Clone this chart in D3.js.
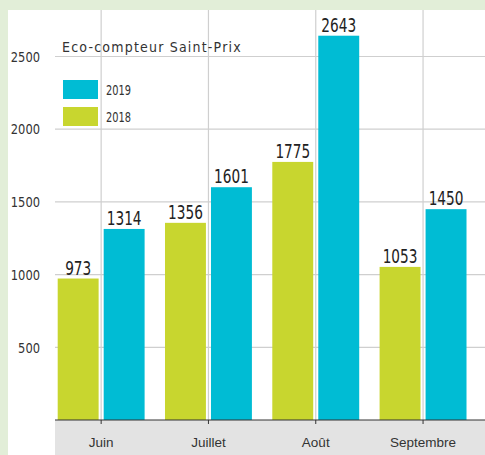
<!DOCTYPE html>
<html>
<head>
<meta charset="utf-8">
<script src="https://cdn.jsdelivr.net/npm/d3@7"></script>
<style>
  html, body { margin: 0; padding: 0; background: #e2eed8; }
  svg { display: block; }
</style>
</head>
<body>
<div id="chart"></div>
<script>
const months = ['Juin', 'Juillet', 'Août', 'Septembre'];
const years = ['2018', '2019'];
const values2018 = [973, 1356, 1775, 1053];
const values2019 = [1314, 1601, 2643, 1450];
const yTicks = [500, 1000, 1500, 2000, 2500];
const title = 'Eco-compteur Saint-Prix';
const legendYears = ['2019', '2018'];

const d3 = window.d3;
const width = 485, height = 455;
const colors = { '2018': '#c8d62f', '2019': '#00bcd4' };
const narrow = '"DejaVu Sans Condensed", "DejaVu Sans", sans-serif';

const svg = d3.select('#chart').append('svg')
  .attr('width', width).attr('height', height)
  .attr('viewBox', [0, 0, width, height]);

// white panel
svg.append('rect').attr('x', 8).attr('y', 10).attr('width', width - 8).attr('height', height - 10).attr('fill', '#fff');

const x0 = d3.scaleBand().domain(months).range([47.5, 476.7]).paddingInner(0.19).paddingOuter(0.095);
const x1 = d3.scaleBand().domain(years).range([0, x0.bandwidth()]).paddingInner(0.11);
const y = d3.scaleLinear().domain([0, 2500]).range([420, 56.5]);

// grid
svg.append('g').selectAll('line').data(yTicks).join('line')
  .attr('x1', 55).attr('x2', width)
  .attr('y1', d => y(d)).attr('y2', d => y(d))
  .attr('stroke', '#cfcfcf').attr('stroke-width', 1.2);
svg.append('g').selectAll('line').data(months).join('line')
  .attr('x1', d => x0(d) + x0.bandwidth() / 2).attr('x2', d => x0(d) + x0.bandwidth() / 2)
  .attr('y1', 10).attr('y2', 420)
  .attr('stroke', '#cfcfcf').attr('stroke-width', 1.2);

// y labels (squeezed horizontally to mimic the condensed face)
svg.append('g').selectAll('text').data(yTicks).join('text')
  .attr('transform', d => `translate(40,${y(d)}) scale(0.88,1)`).attr('dy', '0.36em')
  .attr('text-anchor', 'end')
  .attr('font-family', narrow).attr('font-size', 14.5).attr('fill', '#333')
  .text(d => d);

// bars
const rows = months.map((m, i) => ({ month: m, '2018': values2018[i], '2019': values2019[i] }));
const groups = svg.append('g').selectAll('g').data(rows).join('g')
  .attr('transform', d => `translate(${x0(d.month)},0)`);
groups.selectAll('rect').data(d => years.map(k => ({ key: k, value: d[k] }))).join('rect')
  .attr('x', d => x1(d.key)).attr('width', x1.bandwidth())
  .attr('y', d => y(d.value)).attr('height', d => y(0) - y(d.value))
  .attr('fill', d => colors[d.key]);
groups.selectAll('text').data(d => years.map(k => ({ key: k, value: d[k] }))).join('text')
  .attr('transform', d => `translate(${x1(d.key) + x1.bandwidth() / 2},${y(d.value) - 4}) scale(0.8,1)`)
  .attr('text-anchor', 'middle')
  .attr('font-family', narrow).attr('font-size', 19).attr('fill', '#222')
  .text(d => d.value);

// x axis band
svg.append('rect').attr('x', 55).attr('y', 420).attr('width', width - 55).attr('height', height - 420).attr('fill', '#e3e3e3');
const xAxis = svg.append('g').attr('transform', 'translate(0,420)')
  .call(d3.axisBottom(x0).tickSize(4).tickSizeOuter(0).tickPadding(13));
xAxis.select('.domain').attr('d', `M55,0H${width}`).attr('stroke', '#333');
xAxis.selectAll('.tick line').attr('stroke', '#333');
xAxis.selectAll('.tick text')
  .attr('font-family', '"Liberation Sans", Arial, sans-serif').attr('font-size', 13.5).attr('fill', '#333');

// legend
svg.append('text').attr('x', 62).attr('y', 52)
  .attr('font-family', narrow).attr('font-size', 14)
  .attr('letter-spacing', 1.2).attr('fill', '#333')
  .text(title);
const legend = svg.append('g').selectAll('g').data(legendYears).join('g')
  .attr('transform', (d, i) => `translate(63,${80 + i * 27})`);
legend.append('rect').attr('width', 35).attr('height', 19).attr('fill', d => colors[d]);
legend.append('text').attr('transform', 'translate(43,10) scale(0.78,1)').attr('dy', '0.36em')
  .attr('font-family', narrow).attr('font-size', 14).attr('fill', '#333')
  .text(d => d);
</script>
</body>
</html>
